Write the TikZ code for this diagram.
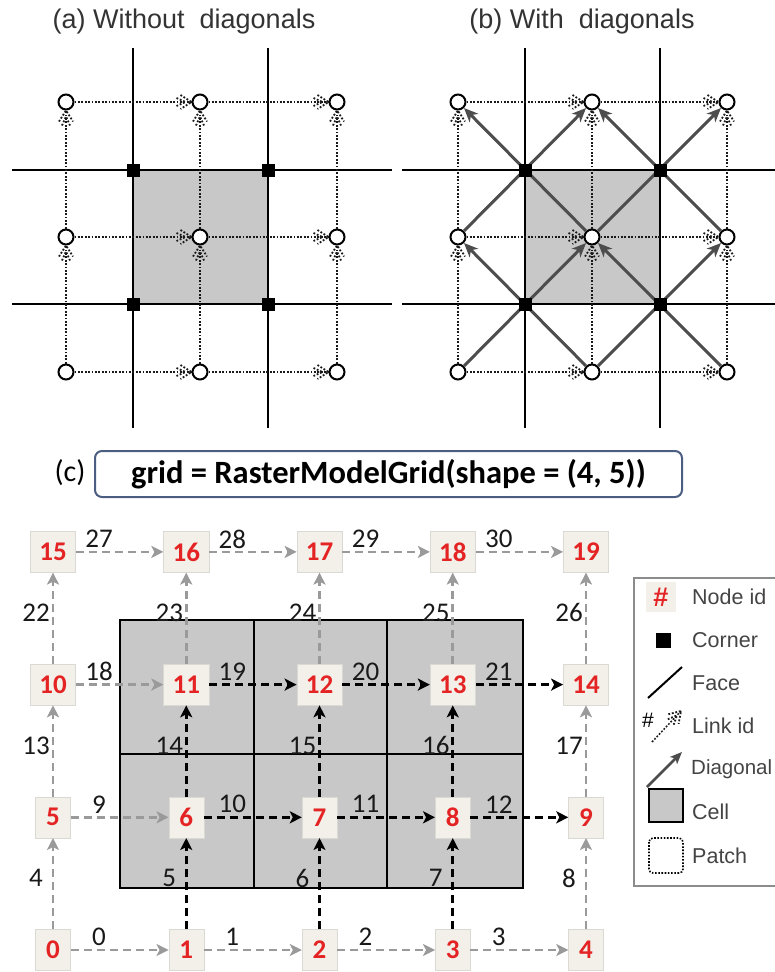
\documentclass[tikz,border=0pt]{standalone}
\usepackage{fontspec}
\newfontfamily\lsans{Liberation Sans}
\newfontfamily\calfont{Carlito}
\usetikzlibrary{arrows.meta,decorations.markings}
\definecolor{nidred}{HTML}{E42424}
\definecolor{nidbg}{HTML}{F2F0E8}
\definecolor{cellgray}{HTML}{C8C8C8}
\definecolor{lgray}{HTML}{9A9A9A}
\definecolor{dgray}{HTML}{4D4D4D}
\definecolor{titlegray}{HTML}{333333}
\definecolor{boxblue}{HTML}{4B5D80}
\definecolor{leggray}{HTML}{444444}
\tikzset{
  face/.style={line width=2pt,black},
  cellfill/.style={fill=cellgray},
  pnode/.style={circle,draw=black,fill=white,line width=2pt,minimum size=15pt,inner sep=0pt},
  corner/.style={rectangle,fill=black,minimum size=13pt,inner sep=0pt},
  chev/.style={line width=1.8pt,dash pattern=on 1.8pt off 1.8pt},
  dlink/.style={line width=1.8pt,draw=black!90,dash pattern=on 1.8pt off 1.6pt,
    postaction={decorate},
    decoration={markings,mark=at position 1 with {
      \draw[chev] (-11pt,7pt) -- (0pt,0pt) -- (-11pt,-7pt);
      \draw[chev] (-15pt,4pt) -- (-6pt,0pt) -- (-15pt,-4pt);}}},
  diag/.style={draw=dgray,line width=3pt,-{Stealth[length=14pt,width=12pt,inset=4pt]}},
  title/.style={font=\lsans\fontsize{27}{31}\selectfont,text=titlegray},
  nid/.style={rectangle,fill=nidbg,draw=nidbg!80!gray,line width=0.4pt,minimum height=41pt,minimum width=35pt,inner xsep=9pt,
    font=\calfont\bfseries\fontsize{27}{31}\selectfont,text=nidred},
  lab/.style={font=\calfont\fontsize{27}{31}\selectfont,text=black!90,inner sep=0pt},
  glink/.style={line width=2.6pt,dash pattern=on 8pt off 5pt,-{Stealth[length=12pt,width=12pt,inset=3pt]}},
  legtext/.style={anchor=west,font=\lsans\fontsize{21.5}{25}\selectfont,text=leggray,inner sep=0pt},
}
\begin{document}
\begin{tikzpicture}[x=1pt,y=-1pt]
\useasboundingbox (0,0) rectangle (775,972);
\clip (0,0) rectangle (775,972);
% ---------------- titles
\node[title] (ta) at (184,22) {(a) Without\ \ diagonals};
\node[title] (tb) at (582,22) {(b) With\ \ diagonals};
% ---------------- panel (a)
\fill[cellfill] (133,170) rectangle (268,304);
\draw[face] (12,170) -- (392,170);
\draw[face] (12,304) -- (392,304);
\draw[face] (133,48) -- (133,428);
\draw[face] (268,48) -- (268,428);
\foreach \i/\x in {0/66,1/200,2/337}{
  \foreach \j/\y in {0/372,1/237,2/102}{
    \node[pnode] (a\i\j) at (\x,\y) {};
  }
}
\foreach \x/\y [count=\k] in {133/170,268/170,133/304,268/304}{
  \node[corner] (ac\k) at (\x,\y) {};
}
\foreach \j in {0,1,2}{
  \draw[dlink] (a0\j) -- (a1\j);
  \draw[dlink] (a1\j) -- (a2\j);
}
\foreach \i in {0,1,2}{
  \draw[dlink] (a\i0) -- (a\i1);
  \draw[dlink] (a\i1) -- (a\i2);
}
% ---------------- panel (b)
\fill[cellfill] (525,170) rectangle (660,304);
\draw[face] (402,170) -- (775,170);
\draw[face] (402,304) -- (775,304);
\draw[face] (525,48) -- (525,428);
\draw[face] (660,48) -- (660,428);
\foreach \i/\x in {0/458,1/592,2/727}{
  \foreach \j/\y in {0/372,1/237,2/102}{
    \node[pnode] (b\i\j) at (\x,\y) {};
  }
}
\foreach \j in {0,1,2}{
  \draw[dlink] (b0\j) -- (b1\j);
  \draw[dlink] (b1\j) -- (b2\j);
}
\foreach \i in {0,1,2}{
  \draw[dlink] (b\i0) -- (b\i1);
  \draw[dlink] (b\i1) -- (b\i2);
}
\draw[diag] (b00) -- (b11);
\draw[diag] (b10) -- (b01);
\draw[diag] (b10) -- (b21);
\draw[diag] (b20) -- (b11);
\draw[diag] (b01) -- (b12);
\draw[diag] (b11) -- (b02);
\draw[diag] (b11) -- (b22);
\draw[diag] (b21) -- (b12);
\foreach \x/\y [count=\k] in {525/170,660/170,525/304,660/304}{
  \node[corner] (bc\k) at (\x,\y) {};
}
% ---------------- panel (c)
\node[font=\calfont\fontsize{30}{34}\selectfont,inner sep=0pt] (clab) at (70,473) {(c)};
\node[draw=boxblue,line width=2pt,rounded corners=7pt,minimum width=587pt,minimum height=46pt,inner sep=0pt,
  font=\calfont\bfseries\fontsize{32.5}{36}\selectfont] (code) at (388.5,474) {grid = RasterModelGrid(shape = (4, 5))};
% cells
\fill[cellfill] (120,620) rectangle (523,888);
\draw[face] (120,620) rectangle (523,888);
\draw[face] (254,620) -- (254,888);
\draw[face] (387,620) -- (387,888);
\draw[face] (120,754) -- (523,754);
% nodes
\foreach \r in {0,...,3}{
  \foreach \c in {0,...,4}{
    \pgfmathtruncatemacro\id{\r*5+\c}
    \node[nid] (n\id) at ({53+133.25*\c},{950-132.7*\r}) {\id};
  }
}
% horizontal links
\foreach \r in {0,...,3}{
  \foreach \c in {0,...,3}{
    \pgfmathtruncatemacro\a{\r*5+\c}
    \pgfmathtruncatemacro\b{\a+1}
    \pgfmathtruncatemacro\lid{\r*9+\c}
    \pgfmathtruncatemacro\act{((\r==1)||(\r==2))&&(\c>0) ? 1 : 0}
    \ifnum\act=1 \def\lcol{black}\else\def\lcol{lgray}\fi
    \draw[glink,draw=\lcol] (n\a) -- (n\b);
    \node[lab] (l\lid) at ({53+133.25*\c+46},{950-132.7*\r-13}) {\lid};
  }
}
% vertical links
\foreach \r in {0,1,2}{
  \foreach \c in {0,...,4}{
    \pgfmathtruncatemacro\a{\r*5+\c}
    \pgfmathtruncatemacro\b{\a+5}
    \pgfmathtruncatemacro\lid{\r*9+4+\c}
    \pgfmathtruncatemacro\act{(\r<2)&&(\c>0)&&(\c<4) ? 1 : 0}
    \ifnum\act=1 \def\lcol{black}\else\def\lcol{lgray}\fi
    \draw[glink,draw=\lcol] (n\a) -- (n\b);
    \node[lab] (l\lid) at ({53+133.25*\c-17},{950-132.7*(\r+1)+61}) {\lid};
  }
}
% ---------------- legend
\draw[draw=gray!90,line width=2pt] (634,578) rectangle (800,886);
\node[rectangle,fill=nidbg,minimum width=30pt,minimum height=30pt,inner sep=0pt,text=nidred,
  font=\lsans\bfseries\fontsize{27}{30}\selectfont] (lg1) at (661,597) {\#};
\node[legtext] (lt1) at (692,597) {Node id};
\node[corner,minimum size=15pt] (lg2) at (663,640) {};
\node[legtext] (lt2) at (692,640) {Corner};
\draw[line width=2pt] (648,698) -- (682,667);
\node[legtext] (lt3) at (692,683) {Face};
\node[font=\lsans\fontsize{21}{24}\selectfont,inner sep=0pt] (lg4) at (648,720) {\#};
\coordinate (lk1) at (652,742);
\coordinate (lk2) at (681,711);
\draw[dlink,line width=1.5pt] (lk1) -- (lk2);
\node[legtext] (lt4) at (692,726) {Link id};
\coordinate (dg1) at (647,787);
\coordinate (dg2) at (682,752);
\draw[diag,line width=2.5pt,-{Stealth[length=12pt,width=10pt,inset=3pt]}] (dg1) -- (dg2);
\node[legtext,font=\lsans\fontsize{20.5}{25}\selectfont] (lt5) at (691,769) {Diagonal};
\draw[fill=cellgray,line width=2pt] (649,789) rectangle (683,822);
\node[legtext] (lt6) at (692,812) {Cell};
\draw[line width=1.6pt,dash pattern=on 1.6pt off 1.6pt,rounded corners=4pt] (649,838) rectangle (683,873);
\node[legtext] (lt7) at (692,856) {Patch};
\end{tikzpicture}
\end{document}
